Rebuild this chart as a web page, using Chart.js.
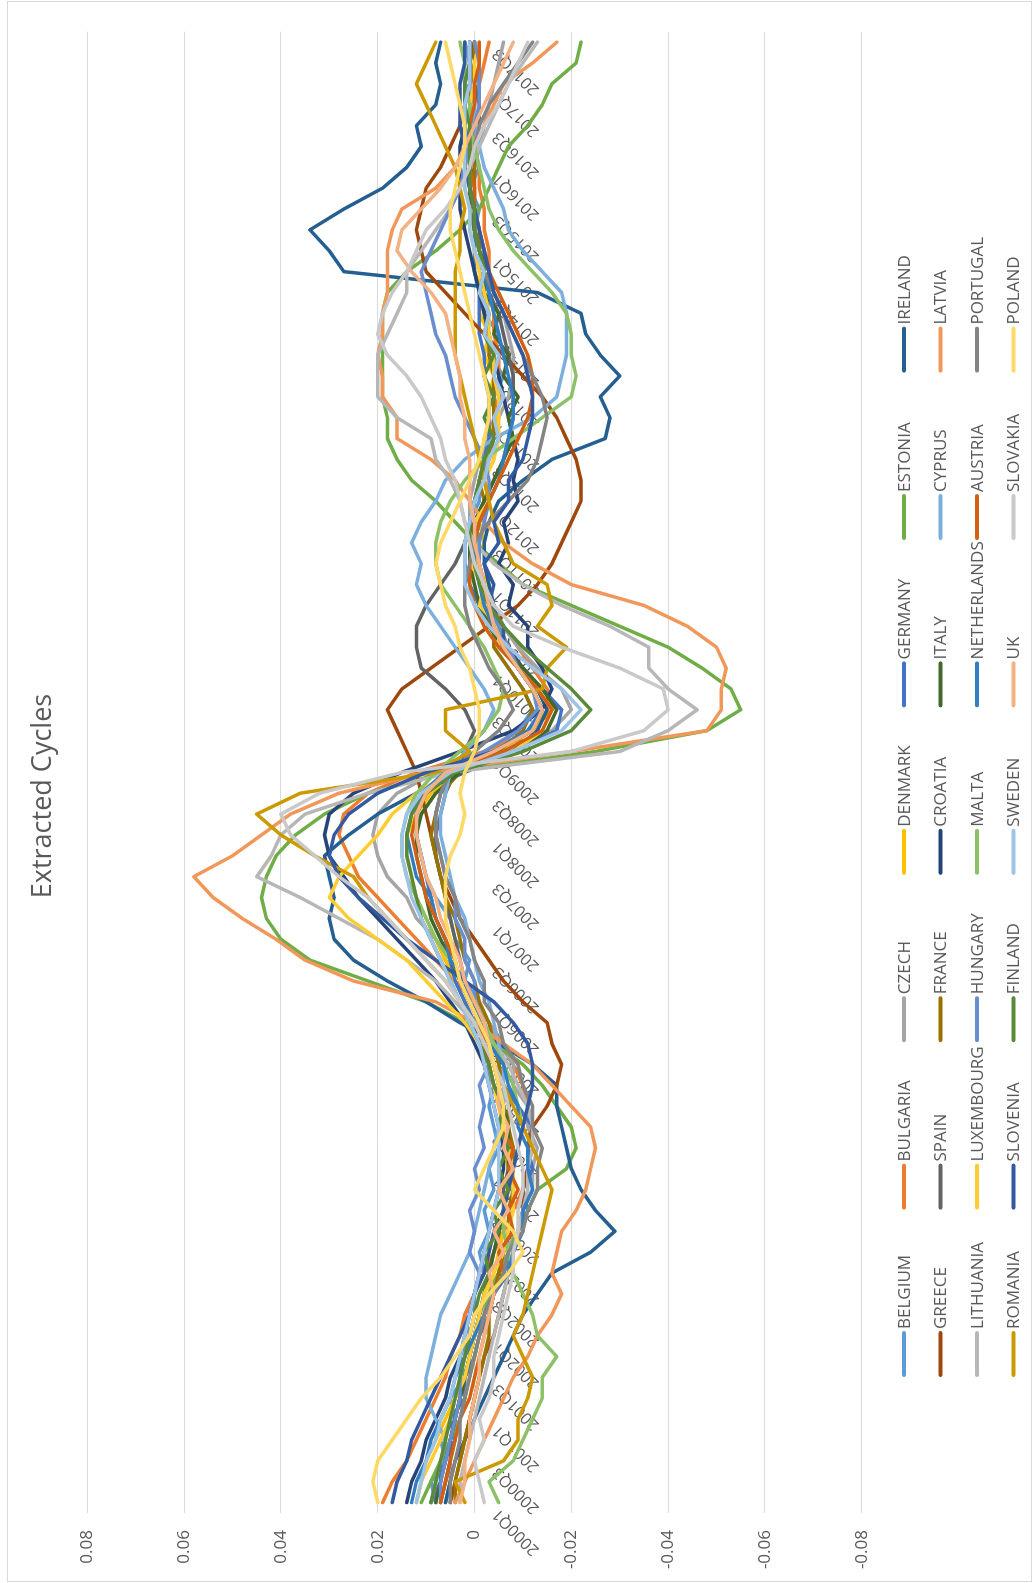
<!DOCTYPE html>
<html><head><meta charset="utf-8">
<script src="https://cdn.jsdelivr.net/npm/chart.js@4.4.1/dist/chart.umd.min.js"></script>
<style>
html,body{margin:0;padding:0;background:#fff;overflow:hidden;width:1034px;height:1583px;}
#wrap{position:absolute;left:0;top:0;width:1583px;height:1034px;transform-origin:0 0;transform:translate(0,1583px) rotate(-90deg);}
#frame{position:absolute;left:1px;top:7px;width:1581px;height:1025px;border:1px solid #D9D9D9;box-sizing:border-box;}
canvas{position:absolute;left:0;top:0;}
</style></head><body>
<div id="wrap"><div id="frame"></div><canvas id="c" width="1583" height="1034"></canvas></div>
<script>
const TITLE = 'Extracted Cycles';
const QUARTERS = ['2000Q1','2000Q2','2000Q3','2000Q4','2001Q1','2001Q2','2001Q3','2001Q4','2002Q1','2002Q2','2002Q3','2002Q4','2003Q1','2003Q2','2003Q3','2003Q4','2004Q1','2004Q2','2004Q3','2004Q4','2005Q1','2005Q2','2005Q3','2005Q4','2006Q1','2006Q2','2006Q3','2006Q4','2007Q1','2007Q2','2007Q3','2007Q4','2008Q1','2008Q2','2008Q3','2008Q4','2009Q1','2009Q2','2009Q3','2009Q4','2010Q1','2010Q2','2010Q3','2010Q4','2011Q1','2011Q2','2011Q3','2011Q4','2012Q1','2012Q2','2012Q3','2012Q4','2013Q1','2013Q2','2013Q3','2013Q4','2014Q1','2014Q2','2014Q3','2014Q4','2015Q1','2015Q2','2015Q3','2015Q4','2016Q1','2016Q2','2016Q3','2016Q4','2017Q1','2017Q2','2017Q3'];
const Y_TICKS = [-0.08,-0.06,-0.04,-0.02,0,0.02,0.04,0.06,0.08];

const BELGIUM = [.008,.009,.006,.007,.004,.005,.002,.003,.001,.002,0,-.002,-.001,-.003,-.002,-.004,-.003,-.005,-.004,-.003,-.004,-.002,-.003,0,-.001,.002,.001,.004,.005,.008,.010,.011,.012,.012,.010,.005,-.003,-.009,-.012,-.010,-.007,-.004,-.004,-.001,-.002,.001,0,.001,-.001,-.001,-.003,-.002,-.005,-.004,-.006,-.003,-.005,-.002,-.004,-.001,-.002,0,-.001,.001,-.001,.002,0,.001,-.001,.001,0];
const BULGARIA = [.019,.017,.014,.012,.010,.008,.006,.005,.003,.002,0,-.002,-.004,-.006,-.008,-.010,-.011,-.012,-.012,-.011,-.010,-.008,-.006,-.003,0,.004,.008,.012,.016,.020,.024,.026,.028,.027,.022,.012,-.002,-.012,-.016,-.015,-.012,-.009,-.006,-.004,-.002,-.001,0,.001,0,-.001,-.002,-.003,-.004,-.005,-.005,-.005,-.004,-.004,-.003,-.003,-.003,-.002,-.002,-.001,-.001,0,0,0,-.001,-.002,-.003];
const CZECH = [.006,.005,.005,.004,.004,.003,.002,.001,0,-.001,-.003,-.005,-.006,-.009,-.010,-.012,-.012,-.013,-.011,-.011,-.008,-.008,-.005,-.003,0,.002,.006,.008,.012,.014,.018,.020,.021,.020,.016,.008,-.006,-.016,-.020,-.018,-.013,-.009,-.006,-.004,-.002,-.001,0,.001,.001,0,-.001,-.003,-.005,-.007,-.008,-.008,-.007,-.006,-.004,-.003,-.001,0,0,.001,0,-.001,-.002,-.003,-.004,-.005,-.006];
const DENMARK = [.012,.011,.010,.008,.006,.004,.002,0,-.001,-.002,-.003,-.004,-.005,-.006,-.006,-.007,-.007,-.006,-.006,-.005,-.004,-.003,-.002,0,.002,.004,.006,.008,.010,.012,.013,.014,.014,.012,.009,.004,-.005,-.012,-.015,-.013,-.010,-.006,-.006,-.002,-.003,0,-.002,-.001,-.003,-.002,-.004,-.002,-.005,-.003,-.004,-.002,-.003,-.001,-.002,0,0,0,.001,.001,.001,.002,.002,.002,.001,.001,.001];
const GERMANY = [.009,.007,.007,.004,.005,.002,.002,0,-.001,-.003,-.004,-.006,-.008,-.009,-.011,-.010,-.012,-.011,-.012,-.009,-.006,-.004,-.002,0,.002,.004,.005,.006,.008,.009,.010,.011,.012,.012,.010,.004,-.008,-.017,-.018,-.014,-.010,-.006,-.003,-.001,.001,.002,.002,.001,0,-.001,-.002,-.003,-.003,-.003,-.002,-.002,-.001,-.001,-.001,0,0,0,0,.001,.001,.001,.002,.002,.001,.001,0];
const ESTONIA = [.011,.009,.007,.005,.003,.002,.001,0,-.001,-.002,-.003,-.005,-.007,-.009,-.011,-.013,-.019,-.021,-.020,-.017,-.014,-.010,-.004,.002,.010,.022,.034,.040,.043,.044,.043,.041,.037,.031,.022,.006,-.025,-.048,-.055,-.053,-.047,-.040,-.030,-.020,-.010,-.005,0,.004,.008,.013,.016,.018,.018,.019,.019,.019,.019,.019,.018,.014,.008,.003,-.001,-.003,-.005,-.007,-.011,-.014,-.016,-.021,-.022];
const IRELAND = [.006,.005,.004,.002,0,-.002,-.004,-.006,-.008,-.010,-.013,-.016,-.024,-.029,-.025,-.022,-.020,-.019,-.018,-.017,-.017,-.012,-.005,.003,.010,.018,.025,.029,.030,.029,.030,.031,.026,.020,.012,.002,-.008,-.013,-.015,-.013,-.010,-.007,-.005,-.004,-.003,-.002,-.002,-.003,-.005,-.010,-.016,-.027,-.028,-.026,-.030,-.026,-.023,-.022,-.013,.027,.030,.034,.027,.019,.014,.011,.012,.008,.007,.008,.007];
const GREECE = [.005,.004,.003,.002,.001,0,-.001,-.002,-.004,-.005,-.006,-.007,-.008,-.009,-.010,-.010,-.011,-.011,-.012,-.015,-.017,-.018,-.016,-.015,-.010,-.006,-.003,0,.003,.005,.007,.008,.009,.010,.011,.012,.014,.016,.018,.015,.009,.003,-.003,-.009,-.013,-.016,-.018,-.020,-.022,-.022,-.021,-.019,-.017,-.014,-.010,-.006,-.002,.002,.006,.010,.011,.012,.011,.010,.007,.005,.003,.002,.001,.001,0];
const SPAIN = [.007,.006,.005,.005,.004,.003,.002,.001,0,-.001,-.002,-.003,-.004,-.005,-.006,-.006,-.007,-.007,-.007,-.006,-.005,-.004,-.003,-.001,0,.002,.003,.004,.005,.006,.007,.008,.008,.007,.006,.004,.002,0,.002,.006,.011,.012,.012,.010,.007,.004,.002,0,-.002,-.004,-.006,-.007,-.008,-.008,-.008,-.007,-.006,-.005,-.003,-.002,-.001,0,.001,.001,0,0,-.001,-.001,0,.001,.002];
const FRANCE = [.004,.004,.003,.002,.001,0,-.001,-.002,-.003,-.003,-.004,-.005,-.006,-.007,-.007,-.008,-.008,-.008,-.007,-.007,-.006,-.005,-.004,-.003,-.001,0,.002,.003,.004,.006,.007,.008,.009,.008,.007,.003,-.005,-.010,-.012,-.010,-.007,-.004,-.004,-.001,-.002,.001,-.001,0,-.002,-.001,-.003,-.004,-.004,-.004,-.004,-.003,-.003,-.002,-.002,-.002,-.001,-.001,0,0,0,.001,.001,.001,.001,0,0];
const CROATIA = [.014,.013,.011,.010,.008,.006,.005,.003,.002,.001,0,-.001,-.002,-.003,-.004,-.005,-.006,-.006,-.005,-.004,-.003,-.002,0,.002,.005,.008,.012,.016,.020,.024,.027,.030,.031,.030,.025,.015,.003,-.008,-.014,-.016,-.014,-.011,-.011,-.007,-.008,-.005,-.007,-.006,-.009,-.008,-.009,-.008,-.007,-.006,-.005,-.004,-.003,-.002,-.001,0,.001,.002,.003,.003,.003,.003,.002,.002,.001,.001,.001];
const ITALY = [.008,.007,.006,.005,.004,.003,.002,.001,0,-.001,-.002,-.003,-.004,-.005,-.006,-.007,-.007,-.007,-.007,-.006,-.005,-.004,-.003,-.001,.001,.003,.005,.007,.009,.010,.011,.012,.012,.011,.008,.003,-.008,-.015,-.017,-.014,-.010,-.006,-.003,-.001,0,.001,.001,0,-.002,-.004,-.006,-.008,-.007,-.009,-.006,-.007,-.004,-.005,-.002,-.003,-.001,0,.001,.001,.002,.002,.002,.002,.001,.001,.001];
const CYPRUS = [.009,.008,.007,.006,.008,.010,.010,.009,.008,.007,.005,.003,.001,0,-.001,-.002,-.003,-.004,-.005,-.006,-.006,-.006,-.005,-.004,-.003,-.001,0,.001,.002,.004,.005,.006,.007,.007,.006,.005,.002,-.002,-.004,-.002,.001,.004,.007,.010,.012,.011,.013,.011,.008,.006,.002,-.004,-.012,-.017,-.018,-.019,-.019,-.019,-.018,-.014,-.010,-.007,-.006,-.004,-.002,-.001,0,0,.001,.001,.002];
const LATVIA = [.004,.002,0,-.002,-.004,-.006,-.008,-.011,-.013,-.016,-.018,-.016,-.017,-.018,-.021,-.023,-.024,-.025,-.024,-.020,-.016,-.012,-.006,0,.008,.025,.035,.041,.048,.054,.058,.050,.044,.038,.028,.010,-.020,-.048,-.051,-.051,-.052,-.050,-.044,-.035,-.020,-.012,-.006,-.002,.001,.004,.009,.016,.016,.019,.019,.020,.019,.019,.018,.018,.018,.017,.015,.008,.004,.001,-.002,-.004,-.006,-.012,-.017];
const LITHUANIA = [.003,.003,.002,.001,0,-.001,-.002,-.003,-.004,-.005,-.006,-.007,-.008,-.009,-.010,-.011,-.011,-.012,-.012,-.011,-.009,-.007,-.004,0,.004,.008,.014,.020,.028,.036,.045,.042,.040,.035,.022,.005,-.030,-.040,-.046,-.040,-.036,-.036,-.028,-.018,-.010,-.004,0,.002,.003,.005,.008,.009,.016,.020,.020,.020,.018,.016,.014,.014,.011,.008,.005,.003,.001,-.001,-.003,-.005,-.007,-.010,-.013];
const LUXEMBOURG = [.012,.011,.009,.007,.005,.004,.002,.001,0,-.001,-.002,-.004,-.006,-.007,-.008,-.008,-.008,-.007,-.006,-.005,-.004,-.003,-.001,.002,.006,.010,.014,.020,.026,.030,.028,.024,.020,.017,.012,.005,-.008,-.014,-.016,-.013,-.009,-.005,-.005,-.001,-.002,.001,-.001,0,-.003,-.002,-.004,-.005,-.005,-.005,-.004,-.004,-.003,-.003,-.002,-.001,0,.001,.001,.002,.002,.002,.001,.001,0,0,-.001];
const HUNGARY = [.007,.007,.006,.005,.004,.003,.003,.002,.001,0,0,-.001,.001,0,.001,-.001,0,-.002,-.001,-.002,-.001,-.003,-.001,-.002,0,0,.002,.002,.004,.004,.006,.007,.008,.008,.007,.005,-.002,-.009,-.013,-.012,-.009,-.007,-.005,-.003,-.002,-.001,-.001,-.002,-.003,-.003,-.002,0,.002,.004,.005,.006,.008,.009,.010,.011,.009,.007,.005,.003,.002,.001,0,-.001,-.001,-.001,0];
const MALTA = [-.005,-.003,-.008,-.010,-.012,-.014,-.014,-.017,-.013,-.012,-.010,-.008,-.007,-.006,-.006,-.007,-.008,-.009,-.010,-.009,-.008,-.006,-.004,-.002,0,.002,.005,.008,.010,.012,.014,.015,.015,.014,.012,.008,.003,-.002,-.005,-.006,-.004,-.002,.001,.004,.007,.008,.008,.007,.005,.002,-.002,-.008,-.014,-.020,-.021,-.020,-.020,-.019,-.016,-.012,-.008,-.005,-.003,-.002,-.001,0,.001,.001,.002,.002,.003];
const NETHERLANDS = [.013,.012,.010,.009,.007,.005,.004,.002,0,-.002,-.004,-.007,-.008,-.010,-.010,-.012,-.011,-.011,-.009,-.009,-.007,-.006,-.003,-.002,.001,.002,.005,.006,.008,.009,.012,.013,.014,.013,.011,.006,-.004,-.011,-.014,-.012,-.009,-.006,-.004,-.002,-.001,0,0,-.001,-.003,-.005,-.006,-.007,-.008,-.008,-.007,-.006,-.005,-.004,-.003,-.002,-.001,0,0,.001,.001,.001,.002,.002,.002,.001,.001];
const AUSTRIA = [.007,.006,.005,.004,.003,.001,0,-.001,-.002,-.003,-.004,-.006,-.005,-.008,-.007,-.009,-.007,-.008,-.005,-.006,-.004,-.003,-.002,-.001,.001,.003,.004,.006,.008,.010,.011,.012,.013,.012,.010,.005,-.006,-.014,-.016,-.013,-.009,-.005,-.002,0,.001,.001,0,-.001,-.003,-.005,-.007,-.009,-.011,-.012,-.012,-.011,-.009,-.007,-.005,-.003,-.002,-.001,0,0,.001,.001,.001,0,0,-.001,-.001];
const PORTUGAL = [.005,.005,.004,.003,.003,.002,.001,0,-.001,-.002,-.004,-.006,-.007,-.010,-.011,-.013,-.013,-.014,-.012,-.012,-.010,-.009,-.006,-.005,-.002,-.002,0,.001,.003,.004,.006,.007,.008,.008,.007,.005,0,-.005,-.008,-.006,-.003,-.001,.001,.002,.002,.001,0,-.003,-.007,-.011,-.013,-.014,-.015,-.014,-.012,-.010,-.008,-.006,-.004,-.002,-.001,0,0,.001,.001,0,-.001,-.003,-.006,-.009,-.012];
const ROMANIA = [.002,.004,-.006,-.009,-.009,-.011,-.012,-.010,-.008,-.010,-.011,-.012,-.013,-.014,-.015,-.016,-.014,-.012,-.010,-.008,-.006,-.004,-.002,0,.003,.006,.010,.014,.018,.022,.025,.033,.040,.045,.036,.008,.001,.006,.006,-.014,-.015,-.019,-.013,-.016,-.015,-.008,-.006,-.004,-.003,-.002,-.001,0,.001,.002,.003,.004,.004,.004,.004,.004,.003,.003,.002,.003,.004,.006,.008,.010,.012,.010,.008];
const SLOVENIA = [.017,.016,.014,.013,.011,.009,.007,.005,.003,.001,0,-.002,-.003,-.004,-.006,-.007,-.008,-.009,-.010,-.011,-.012,-.012,-.011,-.008,-.004,.002,.008,.014,.019,.024,.028,.030,.029,.026,.020,.010,-.004,-.012,-.014,-.012,-.009,-.006,-.006,-.003,-.004,-.002,-.005,-.004,-.007,-.007,-.010,-.011,-.012,-.012,-.011,-.010,-.008,-.006,-.004,-.003,-.002,-.001,0,.001,.002,.002,.003,.003,.003,.002,.002];
const FINLAND = [.009,.008,.007,.006,.005,.004,.003,.002,.001,0,-.001,-.003,-.002,-.005,-.004,-.007,-.005,-.007,-.005,-.006,-.004,-.003,-.001,.001,.003,.005,.007,.009,.011,.012,.013,.014,.014,.013,.010,.004,-.010,-.020,-.024,-.020,-.015,-.010,-.006,-.003,-.001,0,.001,.001,0,-.001,-.002,-.004,-.002,-.004,-.002,-.004,-.002,-.003,-.001,-.002,-.001,0,0,.001,.001,.001,.001,.002,.002,.001,.001];
const SWEDEN = [.012,.011,.010,.008,.007,.005,.004,.003,.002,.001,0,-.001,-.002,-.003,-.004,-.005,-.005,-.005,-.005,-.004,-.003,-.002,-.001,.001,.003,.005,.007,.009,.011,.013,.014,.015,.015,.014,.011,.005,-.008,-.018,-.022,-.018,-.012,-.007,-.003,0,.002,.002,.002,.001,0,-.002,-.003,-.005,-.004,-.006,-.004,-.005,-.002,-.003,-.001,-.002,0,.001,.001,.002,.002,.002,.002,.002,.001,.001,.001];
const UK = [.003,.002,.002,.001,.001,0,-.001,-.001,-.002,-.003,-.004,-.003,-.006,-.004,-.007,-.005,-.008,-.006,-.007,-.005,-.005,-.004,-.003,-.002,0,.002,.003,.005,.007,.008,.010,.011,.012,.012,.010,.006,-.004,-.012,-.014,-.012,-.009,-.006,-.004,-.003,-.002,-.001,0,0,.001,.001,.001,.002,.002,.003,.003,.004,.005,.006,.009,.013,.016,.015,.011,.007,.004,.002,0,-.002,-.004,-.006,-.008];
const SLOVAKIA = [-.002,-.001,0,-.002,-.001,-.003,-.004,-.004,-.005,-.006,-.007,-.008,-.008,-.009,-.009,-.010,-.010,-.009,-.008,-.007,-.006,-.004,-.002,0,.003,.006,.010,.014,.018,.022,.028,.033,.038,.040,.032,.015,-.020,-.035,-.040,-.039,-.030,-.018,-.008,-.004,-.002,0,.001,.002,.003,.004,.006,.007,.009,.011,.014,.018,.020,.019,.017,.014,.012,.010,.006,.003,.001,0,-.002,-.005,-.007,-.009,-.011];
const POLAND = [.020,.021,.020,.017,.014,.011,.007,.004,.001,0,-.003,-.007,-.010,-.008,-.004,0,-.002,-.004,-.006,-.006,-.005,-.004,-.003,-.001,.001,.003,.004,.005,.006,.006,.006,.005,.003,.002,.003,.002,0,-.001,-.001,0,.001,.003,.004,.006,.007,.008,.007,.005,.003,.001,-.001,-.002,-.003,-.003,-.002,-.001,0,.001,.002,.003,.004,.005,.005,.004,.003,.002,.002,.003,.004,.005,.006];

const COUNTRIES = ['BELGIUM','BULGARIA','CZECH','DENMARK','GERMANY','ESTONIA','IRELAND','GREECE','SPAIN','FRANCE','CROATIA','ITALY','CYPRUS','LATVIA','LITHUANIA','LUXEMBOURG','HUNGARY','MALTA','NETHERLANDS','AUSTRIA','PORTUGAL','ROMANIA','SLOVENIA','FINLAND','SWEDEN','UK','SLOVAKIA','POLAND'];
const SERIES = [BELGIUM,BULGARIA,CZECH,DENMARK,GERMANY,ESTONIA,IRELAND,GREECE,SPAIN,FRANCE,CROATIA,ITALY,CYPRUS,LATVIA,LITHUANIA,LUXEMBOURG,HUNGARY,MALTA,NETHERLANDS,AUSTRIA,PORTUGAL,ROMANIA,SLOVENIA,FINLAND,SWEDEN,UK,SLOVAKIA,POLAND];
const COLORS = ['#5B9BD5','#ED7D31','#A5A5A5','#FFC000','#4472C4','#70AD47','#255E91','#9E480E','#636363','#997300','#264478','#43682B','#7CAFDD','#F1975A','#B7B7B7','#FFCD33','#698ED0','#8CC168','#327DC2','#D26012','#848484','#CC9A00','#335AA1','#5A8A39','#9DC3E6','#F4B183','#C9C9C9','#FFD966'];

const TEXT = '#595959';
const FONT = '"Open Sans", "DejaVu Sans", sans-serif';

const datasets = COUNTRIES.map((name, k) => ({
  label: name,
  data: SERIES[k],
  borderColor: COLORS[k],
  backgroundColor: COLORS[k],
  borderWidth: 3.5,
  pointRadius: 0,
  tension: 0,
  fill: false,
  borderJoinStyle: 'round',
  borderCapStyle: 'round',
  order: -k
}));

const overlay = {
  id: 'overlay',
  afterDraw(chart) {
    const ctx = chart.ctx;
    ctx.save();
    ctx.fillStyle = TEXT;
    ctx.font = '27px ' + FONT;
    ctx.textAlign = 'center';
    ctx.textBaseline = 'middle';
    ctx.fillText(TITLE, 787, 43);
    ctx.font = '17px ' + FONT;
    ctx.textAlign = 'left';
    chart.data.datasets.forEach((ds, k) => {
      const row = Math.floor(k / 7), col = k % 7;
      const x = 206 + col * 167.4, y = 904 + row * 36.5;
      ctx.strokeStyle = ds.borderColor;
      ctx.lineWidth = 4;
      ctx.lineCap = 'round';
      ctx.beginPath();
      ctx.moveTo(x + 2, y);
      ctx.lineTo(x + 44, y);
      ctx.stroke();
      ctx.fillStyle = TEXT;
      ctx.fillText(ds.label, x + 48, y + 1);
    });
    ctx.restore();
  }
};

new Chart(document.getElementById('c').getContext('2d'), {
  type: 'line',
  data: { labels: QUARTERS, datasets },
  options: {
    responsive: false,
    animation: false,
    devicePixelRatio: 1,
    layout: { padding: { left: 0, right: 31.7, top: 87.3, bottom: 172.3 } },
    plugins: { legend: { display: false }, title: { display: false }, tooltip: { enabled: false } },
    scales: {
      x: {
        type: 'category',
        offset: true,
        position: { y: 0 },
        grid: { display: false, drawTicks: false },
        border: { display: true, color: '#D9D9D9', width: 1 },
        ticks: {
          autoSkip: false, minRotation: 45, maxRotation: 45, padding: 14, labelOffset: -9,
          color: TEXT, font: { family: FONT, size: 16 },
          callback: (v, i) => (i % 2 === 0 ? QUARTERS[i] : '')
        }
      },
      y: {
        min: Y_TICKS[0], max: Y_TICKS[Y_TICKS.length - 1],
        afterFit: s => { s.width = 70; },
        afterBuildTicks: s => { s.ticks = Y_TICKS.map(v => ({ value: v })); },
        grid: { color: '#D9D9D9', lineWidth: 1, drawTicks: false },
        border: { display: false },
        ticks: {
          padding: 17, color: TEXT, font: { family: FONT, size: 17 },
          callback: v => String(Number(Number(v).toFixed(2)))
        }
      }
    }
  },
  plugins: [overlay]
});
</script>
</body></html>
